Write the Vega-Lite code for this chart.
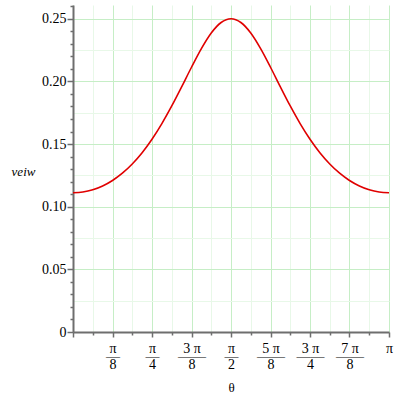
{
  "$schema": "https://vega.github.io/schema/vega-lite/v6.json",
  "width": 316,
  "height": 327,
  "autosize": "none",
  "padding": {"left": 73, "top": 5, "right": 11, "bottom": 68},
  "background": "white",
  "config": {"view": {"stroke": null}, "font": "Liberation Serif, Times New Roman, DejaVu Serif, serif"},
  "data": {"values": [
    {"theta": 0, "v": 0.11111},
    {"theta": 0.09817, "v": 0.11171},
    {"theta": 0.19635, "v": 0.11351},
    {"theta": 0.29452, "v": 0.11657},
    {"theta": 0.39270, "v": 0.12095},
    {"theta": 0.49087, "v": 0.12676},
    {"theta": 0.58905, "v": 0.13411},
    {"theta": 0.68722, "v": 0.14311},
    {"theta": 0.78540, "v": 0.15385},
    {"theta": 0.88357, "v": 0.16633},
    {"theta": 0.98175, "v": 0.18040},
    {"theta": 1.07992, "v": 0.19565},
    {"theta": 1.17810, "v": 0.21132},
    {"theta": 1.27627, "v": 0.22618},
    {"theta": 1.37445, "v": 0.23865},
    {"theta": 1.47262, "v": 0.24703},
    {"theta": 1.57080, "v": 0.25000},
    {"theta": 1.66897, "v": 0.24703},
    {"theta": 1.76715, "v": 0.23865},
    {"theta": 1.86532, "v": 0.22618},
    {"theta": 1.96350, "v": 0.21132},
    {"theta": 2.06167, "v": 0.19565},
    {"theta": 2.15984, "v": 0.18040},
    {"theta": 2.25802, "v": 0.16633},
    {"theta": 2.35619, "v": 0.15385},
    {"theta": 2.45437, "v": 0.14311},
    {"theta": 2.55254, "v": 0.13411},
    {"theta": 2.65072, "v": 0.12676},
    {"theta": 2.74889, "v": 0.12095},
    {"theta": 2.84707, "v": 0.11657},
    {"theta": 2.94524, "v": 0.11351},
    {"theta": 3.04342, "v": 0.11171},
    {"theta": 3.14159, "v": 0.11111}
  ]},
  "layer": [
    {
      "mark": {"type": "line", "color": "#e00000", "strokeWidth": 1.6, "interpolate": "monotone"},
      "encoding": {
        "x": {
          "field": "theta", "type": "quantitative",
          "scale": {"domain": [0, 3.14159], "nice": false, "zero": false},
          "axis": {
            "orient": "top", "grid": true, "domain": false, "ticks": false, "labels": false, "title": null,
            "values": [0, 0.19635, 0.39270, 0.58905, 0.78540, 0.98175, 1.17810, 1.37445, 1.57080, 1.76715, 1.96350, 2.15984, 2.35619, 2.55254, 2.74889, 2.94524, 3.14159],
            "gridColor": {"condition": {"test": "round(datum.value*16/PI)%2==0", "value": "#c6eec6"}, "value": "#e8f8e8"},
            "gridWidth": 1
          }
        },
        "y": {
          "field": "v", "type": "quantitative",
          "scale": {"domain": [0, 0.261], "nice": false, "zero": false},
          "axis": {
            "orient": "right", "grid": true, "domain": false, "ticks": false, "labels": false, "title": null,
            "values": [0, 0.025, 0.05, 0.075, 0.1, 0.125, 0.15, 0.175, 0.2, 0.225, 0.25],
            "gridColor": {"condition": {"test": "round(datum.value*40)%2==0", "value": "#c6eec6"}, "value": "#e8f8e8"},
            "gridWidth": 1
          }
        }
      }
    },
    {
      "mark": {"type": "line", "opacity": 0},
      "encoding": {
        "x": {
          "field": "theta", "type": "quantitative",
          "scale": {"domain": [0, 3.14159], "nice": false, "zero": false},
          "axis": {
            "orient": "bottom", "grid": false,
            "values": [0, 0.19635, 0.39270, 0.58905, 0.78540, 0.98175, 1.17810, 1.37445, 1.57080, 1.76715, 1.96350, 2.15984, 2.35619, 2.55254, 2.74889, 2.94524, 3.14159],
            "labelExpr": "round(datum.value*16/PI)%2==1 ? '' : ['', ['π','—','8'], ['π','—','4'], ['3 π','——','8'], ['π','—','2'], ['5 π','——','8'], ['3 π','——','4'], ['7 π','——','8'], 'π'][round(datum.value*8/PI)]",
            "labelOverlap": false, "labelFlush": false, "labelBound": false,
            "labelFont": "Liberation Serif, Times New Roman, DejaVu Serif, serif", "labelFontSize": 14, "labelColor": "#000000",
            "labelLineHeight": 8, "labelPadding": 4, "labelBaseline": "top",
            "domainColor": "#6e6e6e", "domainWidth": 2,
            "tickColor": "#6e6e6e", "tickWidth": 1.5,
            "tickSize": {"condition": {"test": "round(datum.value*16/PI)%2==0", "value": 5}, "value": 3},
            "title": "θ", "titleFont": "Liberation Serif, Times New Roman, DejaVu Serif, serif", "titleFontSize": 13, "titleFontWeight": "normal",
            "titleColor": "#000000", "titleY": 55, "titleBaseline": "middle"
          }
        },
        "y": {
          "field": "v", "type": "quantitative",
          "scale": {"domain": [0, 0.261], "nice": false, "zero": false},
          "axis": {
            "orient": "left", "grid": false,
            "values": [0, 0.01, 0.02, 0.03, 0.04, 0.05, 0.06, 0.07, 0.08, 0.09, 0.1, 0.11, 0.12, 0.13, 0.14, 0.15, 0.16, 0.17, 0.18, 0.19, 0.2, 0.21, 0.22, 0.23, 0.24, 0.25, 0.26],
            "labelExpr": "round(datum.value*100)%5==0 ? (datum.value==0 ? '0' : format(datum.value,'.2f')) : ''",
            "labelOverlap": false, "labelFlush": false, "labelBound": false,
            "labelFont": "Liberation Serif, Times New Roman, DejaVu Serif, serif", "labelFontSize": 14, "labelColor": "#000000", "labelPadding": 1,
            "domainColor": "#6e6e6e", "domainWidth": 2,
            "tickColor": "#6e6e6e", "tickWidth": 1.5,
            "tickSize": {"condition": {"test": "round(datum.value*100)%5==0", "value": 6}, "value": 3},
            "title": "veiw", "titleFont": "Liberation Serif, Times New Roman, DejaVu Serif, serif", "titleFontSize": 13, "titleFontStyle": "italic",
            "titleFontWeight": "normal", "titleColor": "#000000", "titleAngle": 0,
            "titleX": -50, "titleY": 166, "titleAlign": "center", "titleBaseline": "middle"
          }
        }
      }
    }
  ],
  "resolve": {"axis": {"x": "independent", "y": "independent"}}
}
